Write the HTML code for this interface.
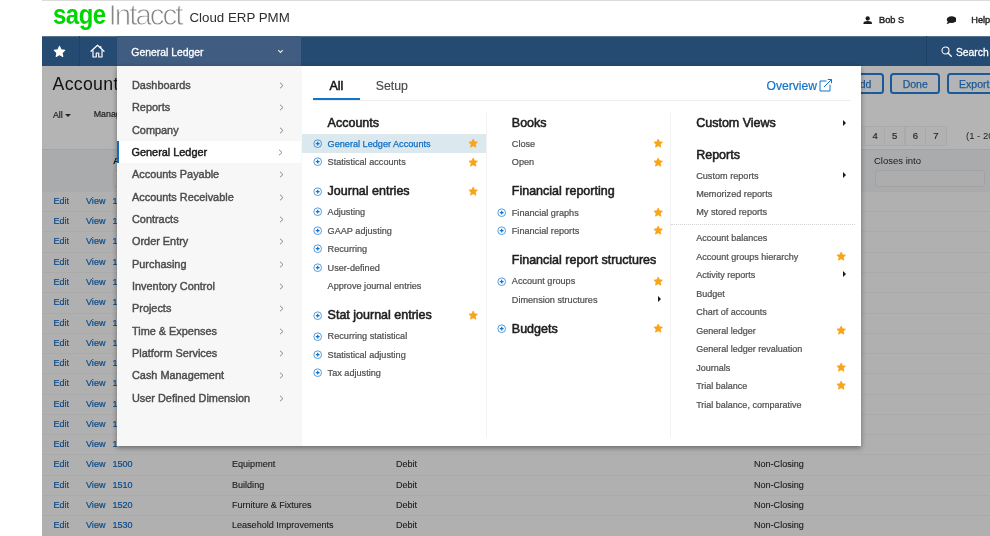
<!DOCTYPE html>
<html lang="en"><head><meta charset="utf-8"><title>Sage Intacct - General Ledger</title>
<style>
*{box-sizing:border-box}
html,body{margin:0;padding:0}
body{width:990px;height:536px;overflow:hidden;background:#fff;position:relative;font-family:"Liberation Sans",sans-serif;color:#222}
.abs{position:absolute;white-space:nowrap}
#topline{left:42px;top:0;width:948px;height:1px;background:#dcdcdc}
#sage{left:53px;top:-3.2px;font-size:27px;font-weight:bold;color:#00d600;letter-spacing:-0.5px;line-height:36px;transform:scaleX(.885);transform-origin:0 0}
#intacct{left:108.6px;top:-3.2px;font-size:29.5px;color:#858585;-webkit-text-stroke:.9px #fff;letter-spacing:-2px;line-height:36px}
#cloud{left:189.5px;top:9.4px;font-size:13.3px;color:#2e2e2e;line-height:18px}
#user{left:879px;top:14px;font-size:9.2px;-webkit-text-stroke:.45px #2a2a2a;color:#2a2a2a;line-height:12px}
#help{left:971.3px;top:14px;font-size:9.2px;-webkit-text-stroke:.45px #2a2a2a;color:#2a2a2a;line-height:12px}
#nav{left:42px;top:36px;width:948px;height:30px;background:#254b72;box-shadow:inset 0 1px 0 #58748f}
#nav .cell{position:absolute;top:0;height:30px}
#page{left:42px;top:66px;width:948px;height:470px;background:#b4b4b4;overflow:hidden}
#title{left:10.6px;top:5px;font-size:17.7px;color:#111;line-height:26px;letter-spacing:.3px}
.small{font-size:8.5px;color:#222}
#thead{left:0;top:83px;width:948px;height:42px;background:#aaabac;border-top:1px solid #a3a4a5}
.row{position:absolute;left:0;width:948px;height:20.3px;border-top:1px solid #aaa;background:#b0b0b0;font-size:9.05px;line-height:19.9px;color:#1c1c1c;-webkit-text-stroke:.12px #1c1c1c}
.row span{position:absolute;top:0;white-space:nowrap}
.row .lk{color:#0a4a8a;-webkit-text-stroke:.2px #0a4a8a}
.btn{position:absolute;top:7px;height:21px;border:2px solid #1b5a98;border-radius:3.5px;color:#1b5a98;font-size:10.5px;line-height:18.3px;text-align:center;-webkit-text-stroke:.25px #1b5a98}
.pg{position:absolute;top:60px;height:19.5px;width:21.6px;border:1px solid #aaa;background:#b2b2b2;font-size:9.5px;line-height:18px;text-align:center;color:#2a2a2a;-webkit-text-stroke:.2px #2a2a2a}
#shadow{left:116.7px;top:66px;width:744.3px;height:380px;box-shadow:0 2px 5px rgba(0,0,0,.4)}
#menu{left:116.7px;top:66px;width:185px;height:380px;background:#f7f7f7}
#menu .mi{position:absolute;left:0;width:184.8px;height:22.36px;font-size:10.9px;line-height:22px;color:#4c4c4c;padding-left:15.3px;-webkit-text-stroke:.42px #4c4c4c}
#menu .mi svg{position:absolute;left:162px;top:8px;width:5px;height:7px}
#menu .sel svg{left:159.5px}
#menu .sel{background:#fff;color:#1a1a1a;border-left:2.5px solid #0f6cc0;padding-left:12.8px;-webkit-text-stroke:.45px #1a1a1a}
#pop{left:301.5px;top:66px;width:559.5px;height:380px;background:#fff}
.h{position:absolute;font-size:12.5px;-webkit-text-stroke:.55px #1d1d1d;color:#1d1d1d;line-height:16px;white-space:nowrap}
.it{position:absolute;font-size:9.15px;color:#505050;-webkit-text-stroke:.22px #505050;line-height:12px;white-space:nowrap}
.pl{position:absolute;width:9.4px;height:9.4px}
.st{position:absolute;width:10.4px;height:10.4px}
.tri{position:absolute;width:0;height:0;border-left:3.4px solid #1a1a1a;border-top:3px solid transparent;border-bottom:3px solid transparent;margin-top:-.6px}
.vl{position:absolute;width:1px;background:#f2f2f2}
</style></head><body>

<div id="topline" class="abs"></div>
<div id="sage" class="abs">sage</div><div id="intacct" class="abs">Intacct</div><div id="cloud" class="abs">Cloud ERP PMM</div>
<svg class="abs" style="left:863.300px;top:15.500px;width:9.400px;height:8.800px" viewBox="0 0 20 18"><circle cx="10" cy="5" r="4.6" fill="#1c1c1c"/><path d="M1 18v-3.5c0-2.5 4-4 9-4s9 1.500 9 4V18z" fill="#1c1c1c"/></svg>
<div id="user" class="abs">Bob S</div>
<svg class="abs" style="left:945.600px;top:16px;width:10.800px;height:8.800px" viewBox="0 0 22 18"><ellipse cx="11.500" cy="7.500" rx="10" ry="7" fill="#1c1c1c"/><path d="M4 11l-3 6 8-3z" fill="#1c1c1c"/></svg>
<div id="help" class="abs">Help</div>
<div id="nav" class="abs">
<div class="cell" style="left:0;width:37.800px;border-right:1px solid #1f4266"></div>
<div class="cell" style="left:37px;width:37px"></div>
<div class="cell" style="left:74.700px;width:184.800px;background:#405c81"></div>
<svg class="abs" style="left:10.700px;top:9.300px;width:13px;height:13px" viewBox="0 0 24 24"><path fill="#fff" stroke="#fff" stroke-width="2" stroke-linejoin="round" d="M12 2.500l2.900 6.300 6.900.800-5.100 4.700 1.400 6.800L12 17.700l-6.100 3.400 1.400-6.800-5.100-4.700 6.900-.800z"/></svg>
<svg class="abs" style="left:47.500px;top:8px;width:15px;height:14px" viewBox="0 0 30 28"><path d="M2 14.500L15 2.500l13 12" fill="none" stroke="#fff" stroke-width="2.400" stroke-linejoin="round" stroke-linecap="round"/><path d="M6 12.500V26h6.500v-8h5v8H24V12.500" fill="none" stroke="#fff" stroke-width="2.400" stroke-linejoin="round"/><path d="M21.500 4v4" stroke="#fff" stroke-width="2.400"/></svg>
<div class="abs" style="left:89.300px;top:10px;font-size:10.4px;-webkit-text-stroke:.3px #fff;color:#fff;line-height:14px">General Ledger</div>
<svg class="abs" style="left:235px;top:13px;width:7px;height:4.500px" viewBox="0 0 14 10"><path d="M2 2.500l5 5 5-5" fill="none" stroke="#e6ebf2" stroke-width="2.600"/></svg>
<div class="cell" style="left:884.400px;width:1px;background:#1f4266"></div>
<svg class="abs" style="left:899px;top:10px;width:11px;height:11px" viewBox="0 0 22 22"><circle cx="9" cy="9" r="7" fill="none" stroke="#fff" stroke-width="2.200"/><path d="M14 14l6.500 6.500" stroke="#fff" stroke-width="2.600" stroke-linecap="round"/></svg>
<div class="abs" style="left:914px;top:10px;font-size:10.3px;-webkit-text-stroke:.3px #fff;color:#fff;line-height:14px">Search</div>
</div>
<div id="page" class="abs">
<div id="title" class="abs">Accounts</div>
<div class="abs small" style="left:11px;top:44px;line-height:11px;font-size:8.800px;-webkit-text-stroke:.2px #222">All<span style="display:inline-block;width:0;height:0;border-top:3.200px solid #222;border-left:3px solid transparent;border-right:3px solid transparent;margin-left:2.600px;vertical-align:1.500px"></span></div>
<div class="abs small" style="left:51.800px;top:43px;line-height:11px;font-size:8.800px;-webkit-text-stroke:.2px #222">Manage views</div>
<div class="btn" style="left:798px;width:44px">Add</div>
<div class="btn" style="left:848.400px;width:49.600px">Done</div>
<div class="btn" style="left:904.500px;width:55.500px">Export</div>
<div class="pg" style="left:801.7px">3</div>
<div class="pg" style="left:822.3px">4</div>
<div class="pg" style="left:841.9px">5</div>
<div class="pg" style="left:862.5px">6</div>
<div class="pg" style="left:883.1px">7</div>
<div class="abs" style="left:924px;top:64px;font-size:9.500px;color:#222;line-height:12px">(1 - 20 of 131)</div>
<div id="thead" class="abs">
<div class="abs" style="left:71px;top:5px;font-size:9.500px;font-weight:bold;color:#111;line-height:12px">Account number</div>
<div class="abs" style="left:832px;top:5px;font-size:9.500px;color:#1b1b1b;line-height:12px">Closes into</div>
<div class="abs" style="left:833px;top:20px;width:110px;height:17px;border:1px solid #a2a2a2;border-radius:3px;background:#adadad"></div>
<div class="abs" style="left:70.500px;top:20px;width:110px;height:17px;border:1px solid #a2a2a2;border-radius:3px;background:#adadad"></div>
</div>
<div class="row" style="top:124.90px"><span class="lk" style="left:11.500px">Edit</span><span class="lk" style="left:44px">View</span><span class="lk" style="left:70.500px">1000</span><span style="left:190px">Cash</span><span style="left:354px">Debit</span><span style="left:712px">Non-Closing</span></div>
<div class="row" style="top:145.18px"><span class="lk" style="left:11.500px">Edit</span><span class="lk" style="left:44px">View</span><span class="lk" style="left:70.500px">1010</span><span style="left:190px">Checking</span><span style="left:354px">Debit</span><span style="left:712px">Non-Closing</span></div>
<div class="row" style="top:165.45px"><span class="lk" style="left:11.500px">Edit</span><span class="lk" style="left:44px">View</span><span class="lk" style="left:70.500px">1020</span><span style="left:190px">Savings</span><span style="left:354px">Debit</span><span style="left:712px">Non-Closing</span></div>
<div class="row" style="top:185.72px"><span class="lk" style="left:11.500px">Edit</span><span class="lk" style="left:44px">View</span><span class="lk" style="left:70.500px">1050</span><span style="left:190px">Petty Cash</span><span style="left:354px">Debit</span><span style="left:712px">Non-Closing</span></div>
<div class="row" style="top:206.00px"><span class="lk" style="left:11.500px">Edit</span><span class="lk" style="left:44px">View</span><span class="lk" style="left:70.500px">1100</span><span style="left:190px">Accounts Receivable</span><span style="left:354px">Debit</span><span style="left:712px">Non-Closing</span></div>
<div class="row" style="top:226.28px"><span class="lk" style="left:11.500px">Edit</span><span class="lk" style="left:44px">View</span><span class="lk" style="left:70.500px">1110</span><span style="left:190px">Unbilled Receivables</span><span style="left:354px">Debit</span><span style="left:712px">Non-Closing</span></div>
<div class="row" style="top:246.55px"><span class="lk" style="left:11.500px">Edit</span><span class="lk" style="left:44px">View</span><span class="lk" style="left:70.500px">1200</span><span style="left:190px">Inventory</span><span style="left:354px">Debit</span><span style="left:712px">Non-Closing</span></div>
<div class="row" style="top:266.82px"><span class="lk" style="left:11.500px">Edit</span><span class="lk" style="left:44px">View</span><span class="lk" style="left:70.500px">1250</span><span style="left:190px">Prepaid Expenses</span><span style="left:354px">Debit</span><span style="left:712px">Non-Closing</span></div>
<div class="row" style="top:287.10px"><span class="lk" style="left:11.500px">Edit</span><span class="lk" style="left:44px">View</span><span class="lk" style="left:70.500px">1300</span><span style="left:190px">Other Current Assets</span><span style="left:354px">Debit</span><span style="left:712px">Non-Closing</span></div>
<div class="row" style="top:307.38px"><span class="lk" style="left:11.500px">Edit</span><span class="lk" style="left:44px">View</span><span class="lk" style="left:70.500px">1400</span><span style="left:190px">Deposits</span><span style="left:354px">Debit</span><span style="left:712px">Non-Closing</span></div>
<div class="row" style="top:327.65px"><span class="lk" style="left:11.500px">Edit</span><span class="lk" style="left:44px">View</span><span class="lk" style="left:70.500px">1410</span><span style="left:190px">Investments</span><span style="left:354px">Debit</span><span style="left:712px">Non-Closing</span></div>
<div class="row" style="top:347.92px"><span class="lk" style="left:11.500px">Edit</span><span class="lk" style="left:44px">View</span><span class="lk" style="left:70.500px">1450</span><span style="left:190px">Intercompany</span><span style="left:354px">Debit</span><span style="left:712px">Non-Closing</span></div>
<div class="row" style="top:368.20px"><span class="lk" style="left:11.500px">Edit</span><span class="lk" style="left:44px">View</span><span class="lk" style="left:70.500px;width:4px;overflow:hidden">1490</span><span style="left:190px"></span><span style="left:354px"></span><span style="left:712px"></span></div>
<div class="row" style="top:388.48px"><span class="lk" style="left:11.500px">Edit</span><span class="lk" style="left:44px">View</span><span class="lk" style="left:70.500px">1500</span><span style="left:190px">Equipment</span><span style="left:354px">Debit</span><span style="left:712px">Non-Closing</span></div>
<div class="row" style="top:408.75px"><span class="lk" style="left:11.500px">Edit</span><span class="lk" style="left:44px">View</span><span class="lk" style="left:70.500px">1510</span><span style="left:190px">Building</span><span style="left:354px">Debit</span><span style="left:712px">Non-Closing</span></div>
<div class="row" style="top:429.02px"><span class="lk" style="left:11.500px">Edit</span><span class="lk" style="left:44px">View</span><span class="lk" style="left:70.500px">1520</span><span style="left:190px">Furniture &amp; Fixtures</span><span style="left:354px">Debit</span><span style="left:712px">Non-Closing</span></div>
<div class="row" style="top:449.30px"><span class="lk" style="left:11.500px">Edit</span><span class="lk" style="left:44px">View</span><span class="lk" style="left:70.500px">1530</span><span style="left:190px">Leasehold Improvements</span><span style="left:354px">Debit</span><span style="left:712px">Non-Closing</span></div>
</div>
<div id="shadow" class="abs"></div>
<div id="menu" class="abs">
<div class="mi" style="top:7.80px">Dashboards<svg viewBox="0 0 10 14"><path d="M2 1.500l6 5.500-6 5.500" fill="none" stroke="#8a8a8a" stroke-width="2"/></svg></div>
<div class="mi" style="top:30.16px">Reports<svg viewBox="0 0 10 14"><path d="M2 1.500l6 5.500-6 5.500" fill="none" stroke="#8a8a8a" stroke-width="2"/></svg></div>
<div class="mi" style="top:52.52px">Company<svg viewBox="0 0 10 14"><path d="M2 1.500l6 5.500-6 5.500" fill="none" stroke="#8a8a8a" stroke-width="2"/></svg></div>
<div class="mi sel" style="top:74.88px">General Ledger<svg viewBox="0 0 10 14"><path d="M2 1.500l6 5.500-6 5.500" fill="none" stroke="#8a8a8a" stroke-width="2"/></svg></div>
<div class="mi" style="top:97.24px">Accounts Payable<svg viewBox="0 0 10 14"><path d="M2 1.500l6 5.500-6 5.500" fill="none" stroke="#8a8a8a" stroke-width="2"/></svg></div>
<div class="mi" style="top:119.60px">Accounts Receivable<svg viewBox="0 0 10 14"><path d="M2 1.500l6 5.500-6 5.500" fill="none" stroke="#8a8a8a" stroke-width="2"/></svg></div>
<div class="mi" style="top:141.96px">Contracts<svg viewBox="0 0 10 14"><path d="M2 1.500l6 5.500-6 5.500" fill="none" stroke="#8a8a8a" stroke-width="2"/></svg></div>
<div class="mi" style="top:164.32px">Order Entry<svg viewBox="0 0 10 14"><path d="M2 1.500l6 5.500-6 5.500" fill="none" stroke="#8a8a8a" stroke-width="2"/></svg></div>
<div class="mi" style="top:186.68px">Purchasing<svg viewBox="0 0 10 14"><path d="M2 1.500l6 5.500-6 5.500" fill="none" stroke="#8a8a8a" stroke-width="2"/></svg></div>
<div class="mi" style="top:209.04px">Inventory Control<svg viewBox="0 0 10 14"><path d="M2 1.500l6 5.500-6 5.500" fill="none" stroke="#8a8a8a" stroke-width="2"/></svg></div>
<div class="mi" style="top:231.40px">Projects<svg viewBox="0 0 10 14"><path d="M2 1.500l6 5.500-6 5.500" fill="none" stroke="#8a8a8a" stroke-width="2"/></svg></div>
<div class="mi" style="top:253.76px">Time &amp; Expenses<svg viewBox="0 0 10 14"><path d="M2 1.500l6 5.500-6 5.500" fill="none" stroke="#8a8a8a" stroke-width="2"/></svg></div>
<div class="mi" style="top:276.12px">Platform Services<svg viewBox="0 0 10 14"><path d="M2 1.500l6 5.500-6 5.500" fill="none" stroke="#8a8a8a" stroke-width="2"/></svg></div>
<div class="mi" style="top:298.48px">Cash Management<svg viewBox="0 0 10 14"><path d="M2 1.500l6 5.500-6 5.500" fill="none" stroke="#8a8a8a" stroke-width="2"/></svg></div>
<div class="mi" style="top:320.84px">User Defined Dimension<svg viewBox="0 0 10 14"><path d="M2 1.500l6 5.500-6 5.500" fill="none" stroke="#8a8a8a" stroke-width="2"/></svg></div>
</div>
<div id="pop" class="abs">
<div class="abs" style="left:28px;top:12px;font-size:12.500px;-webkit-text-stroke:.5px #111;color:#111;line-height:16px">All</div>
<div class="abs" style="left:74.200px;top:12px;font-size:12.300px;color:#4a4a4a;-webkit-text-stroke:.15px #4a4a4a;line-height:16px">Setup</div>
<div class="abs" style="left:11.500px;top:34px;width:537px;height:1px;background:#ececec"></div>
<div class="abs" style="left:11.500px;top:32px;width:46.500px;height:2.200px;background:#1274c8"></div>
<div class="abs" style="left:465px;top:12px;font-size:12.100px;color:#1274c8;-webkit-text-stroke:.2px #1274c8;line-height:16px">Overview</div>
<svg class="abs" style="left:516.500px;top:11.500px;width:15px;height:15px" viewBox="0 0 30 30"><path d="M17 6H4v20h20V13" fill="none" stroke="#1274c8" stroke-width="2"/><path d="M12 18L27 3M19.500 3H27v7.500" fill="none" stroke="#1274c8" stroke-width="2"/></svg>
<div class="vl" style="left:184px;top:46px;height:325px"></div>
<div class="vl" style="left:368.400px;top:46px;height:325px"></div>
<div class="abs" style="left:0;top:68px;width:184px;height:18.500px;background:#dbe8ee"></div>
<div class="h" style="left:26.100000000000023px;top:49.1px">Accounts</div>
<div class="it" style="left:26.100000000000023px;top:71.9px;color:#0f6fc5;-webkit-text-stroke:.25px #0f6fc5">General Ledger Accounts</div>
<svg class="pl" style="left:11.5px;top:73.1px" viewBox="0 0 10 10"><circle cx="5" cy="5" r="4.100" fill="none" stroke="#2a86d6" stroke-width=".85"/><path d="M5 3v4M3 5h4" stroke="#1274c8" stroke-width="1.300"/></svg>
<svg class="st" style="left:166.50px;top:72.3px" viewBox="0 0 24 24"><path fill="#f8a51b" stroke="#f8a51b" stroke-width="2" stroke-linejoin="round" d="M12 2.500l2.900 6.300 6.900.800-5.100 4.700 1.400 6.800L12 17.700l-6.100 3.400 1.400-6.800-5.100-4.700 6.900-.800z"/></svg>
<div class="it" style="left:26.100000000000023px;top:90.1px">Statistical accounts</div>
<svg class="pl" style="left:11.5px;top:91.3px" viewBox="0 0 10 10"><circle cx="5" cy="5" r="4.100" fill="none" stroke="#2a86d6" stroke-width=".85"/><path d="M5 3v4M3 5h4" stroke="#1274c8" stroke-width="1.300"/></svg>
<svg class="st" style="left:166.50px;top:90.5px" viewBox="0 0 24 24"><path fill="#f8a51b" stroke="#f8a51b" stroke-width="2" stroke-linejoin="round" d="M12 2.500l2.900 6.300 6.900.800-5.100 4.700 1.400 6.800L12 17.700l-6.100 3.400 1.400-6.800-5.100-4.700 6.900-.800z"/></svg>
<div class="h" style="left:26.100000000000023px;top:117.4px">Journal entries</div>
<svg class="pl" style="left:11.5px;top:120.8px" viewBox="0 0 10 10"><circle cx="5" cy="5" r="4.100" fill="none" stroke="#2a86d6" stroke-width=".85"/><path d="M5 3v4M3 5h4" stroke="#1274c8" stroke-width="1.300"/></svg>
<svg class="st" style="left:166.50px;top:120.0px" viewBox="0 0 24 24"><path fill="#f8a51b" stroke="#f8a51b" stroke-width="2" stroke-linejoin="round" d="M12 2.500l2.900 6.300 6.900.800-5.100 4.700 1.400 6.800L12 17.700l-6.100 3.400 1.400-6.800-5.100-4.700 6.900-.800z"/></svg>
<div class="it" style="left:26.100000000000023px;top:140.2px">Adjusting</div>
<svg class="pl" style="left:11.5px;top:141.4px" viewBox="0 0 10 10"><circle cx="5" cy="5" r="4.100" fill="none" stroke="#2a86d6" stroke-width=".85"/><path d="M5 3v4M3 5h4" stroke="#1274c8" stroke-width="1.300"/></svg>
<div class="it" style="left:26.100000000000023px;top:158.9px">GAAP adjusting</div>
<svg class="pl" style="left:11.5px;top:160.1px" viewBox="0 0 10 10"><circle cx="5" cy="5" r="4.100" fill="none" stroke="#2a86d6" stroke-width=".85"/><path d="M5 3v4M3 5h4" stroke="#1274c8" stroke-width="1.300"/></svg>
<div class="it" style="left:26.100000000000023px;top:177.1px">Recurring</div>
<svg class="pl" style="left:11.5px;top:178.3px" viewBox="0 0 10 10"><circle cx="5" cy="5" r="4.100" fill="none" stroke="#2a86d6" stroke-width=".85"/><path d="M5 3v4M3 5h4" stroke="#1274c8" stroke-width="1.300"/></svg>
<div class="it" style="left:26.100000000000023px;top:195.9px">User-defined</div>
<svg class="pl" style="left:11.5px;top:197.1px" viewBox="0 0 10 10"><circle cx="5" cy="5" r="4.100" fill="none" stroke="#2a86d6" stroke-width=".85"/><path d="M5 3v4M3 5h4" stroke="#1274c8" stroke-width="1.300"/></svg>
<div class="it" style="left:26.100000000000023px;top:214.3px">Approve journal entries</div>
<div class="h" style="left:26.100000000000023px;top:241.4px">Stat journal entries</div>
<svg class="pl" style="left:11.5px;top:244.8px" viewBox="0 0 10 10"><circle cx="5" cy="5" r="4.100" fill="none" stroke="#2a86d6" stroke-width=".85"/><path d="M5 3v4M3 5h4" stroke="#1274c8" stroke-width="1.300"/></svg>
<svg class="st" style="left:166.50px;top:244.0px" viewBox="0 0 24 24"><path fill="#f8a51b" stroke="#f8a51b" stroke-width="2" stroke-linejoin="round" d="M12 2.500l2.900 6.300 6.900.800-5.100 4.700 1.400 6.800L12 17.700l-6.100 3.400 1.400-6.800-5.100-4.700 6.900-.800z"/></svg>
<div class="it" style="left:26.100000000000023px;top:264.3px">Recurring statistical</div>
<svg class="pl" style="left:11.5px;top:265.5px" viewBox="0 0 10 10"><circle cx="5" cy="5" r="4.100" fill="none" stroke="#2a86d6" stroke-width=".85"/><path d="M5 3v4M3 5h4" stroke="#1274c8" stroke-width="1.300"/></svg>
<div class="it" style="left:26.100000000000023px;top:282.6px">Statistical adjusting</div>
<svg class="pl" style="left:11.5px;top:283.8px" viewBox="0 0 10 10"><circle cx="5" cy="5" r="4.100" fill="none" stroke="#2a86d6" stroke-width=".85"/><path d="M5 3v4M3 5h4" stroke="#1274c8" stroke-width="1.300"/></svg>
<div class="it" style="left:26.100000000000023px;top:300.9px">Tax adjusting</div>
<svg class="pl" style="left:11.5px;top:302.1px" viewBox="0 0 10 10"><circle cx="5" cy="5" r="4.100" fill="none" stroke="#2a86d6" stroke-width=".85"/><path d="M5 3v4M3 5h4" stroke="#1274c8" stroke-width="1.300"/></svg>
<div class="h" style="left:210.3px;top:49.1px">Books</div>
<div class="it" style="left:210.3px;top:71.9px">Close</div>
<svg class="st" style="left:351.00px;top:72.3px" viewBox="0 0 24 24"><path fill="#f8a51b" stroke="#f8a51b" stroke-width="2" stroke-linejoin="round" d="M12 2.500l2.900 6.300 6.900.800-5.100 4.700 1.400 6.800L12 17.700l-6.100 3.400 1.400-6.800-5.100-4.700 6.900-.800z"/></svg>
<div class="it" style="left:210.3px;top:90.1px">Open</div>
<svg class="st" style="left:351.00px;top:90.5px" viewBox="0 0 24 24"><path fill="#f8a51b" stroke="#f8a51b" stroke-width="2" stroke-linejoin="round" d="M12 2.500l2.900 6.300 6.900.800-5.100 4.700 1.400 6.800L12 17.700l-6.100 3.400 1.400-6.800-5.100-4.700 6.900-.800z"/></svg>
<div class="h" style="left:210.3px;top:117.4px">Financial reporting</div>
<div class="it" style="left:210.3px;top:140.6px">Financial graphs</div>
<svg class="pl" style="left:195.7px;top:141.8px" viewBox="0 0 10 10"><circle cx="5" cy="5" r="4.100" fill="none" stroke="#2a86d6" stroke-width=".85"/><path d="M5 3v4M3 5h4" stroke="#1274c8" stroke-width="1.300"/></svg>
<svg class="st" style="left:351.00px;top:141.0px" viewBox="0 0 24 24"><path fill="#f8a51b" stroke="#f8a51b" stroke-width="2" stroke-linejoin="round" d="M12 2.500l2.900 6.300 6.900.800-5.100 4.700 1.400 6.800L12 17.700l-6.100 3.400 1.400-6.800-5.100-4.700 6.900-.800z"/></svg>
<div class="it" style="left:210.3px;top:158.9px">Financial reports</div>
<svg class="pl" style="left:195.7px;top:160.1px" viewBox="0 0 10 10"><circle cx="5" cy="5" r="4.100" fill="none" stroke="#2a86d6" stroke-width=".85"/><path d="M5 3v4M3 5h4" stroke="#1274c8" stroke-width="1.300"/></svg>
<svg class="st" style="left:351.00px;top:159.3px" viewBox="0 0 24 24"><path fill="#f8a51b" stroke="#f8a51b" stroke-width="2" stroke-linejoin="round" d="M12 2.500l2.900 6.300 6.900.800-5.100 4.700 1.400 6.800L12 17.700l-6.100 3.400 1.400-6.800-5.100-4.700 6.900-.800z"/></svg>
<div class="h" style="left:210.3px;top:186.4px">Financial report structures</div>
<div class="it" style="left:210.3px;top:209.3px">Account groups</div>
<svg class="pl" style="left:195.7px;top:210.5px" viewBox="0 0 10 10"><circle cx="5" cy="5" r="4.100" fill="none" stroke="#2a86d6" stroke-width=".85"/><path d="M5 3v4M3 5h4" stroke="#1274c8" stroke-width="1.300"/></svg>
<svg class="st" style="left:351.00px;top:209.7px" viewBox="0 0 24 24"><path fill="#f8a51b" stroke="#f8a51b" stroke-width="2" stroke-linejoin="round" d="M12 2.500l2.900 6.300 6.900.800-5.100 4.700 1.400 6.800L12 17.700l-6.100 3.400 1.400-6.800-5.100-4.700 6.900-.800z"/></svg>
<div class="it" style="left:210.3px;top:227.6px">Dimension structures</div>
<span class="tri" style="left:356.79999999999995px;top:230.5px"></span>
<div class="h" style="left:210.3px;top:254.7px">Budgets</div>
<svg class="pl" style="left:195.7px;top:258.1px" viewBox="0 0 10 10"><circle cx="5" cy="5" r="4.100" fill="none" stroke="#2a86d6" stroke-width=".85"/><path d="M5 3v4M3 5h4" stroke="#1274c8" stroke-width="1.300"/></svg>
<svg class="st" style="left:351.00px;top:257.3px" viewBox="0 0 24 24"><path fill="#f8a51b" stroke="#f8a51b" stroke-width="2" stroke-linejoin="round" d="M12 2.500l2.900 6.300 6.900.800-5.100 4.700 1.400 6.800L12 17.700l-6.100 3.400 1.400-6.800-5.100-4.700 6.900-.800z"/></svg>
<div class="h" style="left:394.70000000000005px;top:49.1px">Custom Views</div>
<span class="tri" style="left:541.7px;top:54.2px"></span>
<div class="h" style="left:394.70000000000005px;top:80.7px">Reports</div>
<div class="it" style="left:394.70000000000005px;top:103.6px">Custom reports</div>
<span class="tri" style="left:541.7px;top:106.5px"></span>
<div class="it" style="left:394.70000000000005px;top:121.9px">Memorized reports</div>
<div class="it" style="left:394.70000000000005px;top:140.3px">My stored reports</div>
<div class="abs" style="left:369px;top:158.300px;width:184px;height:0;border-top:1px dotted #d2d2d2"></div>
<div class="it" style="left:394.70000000000005px;top:166.0px;font-size:9.0px">Account balances</div>
<div class="it" style="left:394.70000000000005px;top:184.5px;font-size:9.0px">Account groups hierarchy</div>
<svg class="st" style="left:534.70px;top:184.9px" viewBox="0 0 24 24"><path fill="#f8a51b" stroke="#f8a51b" stroke-width="2" stroke-linejoin="round" d="M12 2.500l2.900 6.300 6.900.800-5.100 4.700 1.400 6.800L12 17.700l-6.100 3.400 1.400-6.800-5.100-4.700 6.900-.800z"/></svg>
<div class="it" style="left:394.70000000000005px;top:203.0px;font-size:9.0px">Activity reports</div>
<span class="tri" style="left:541.7px;top:205.9px"></span>
<div class="it" style="left:394.70000000000005px;top:221.5px;font-size:9.0px">Budget</div>
<div class="it" style="left:394.70000000000005px;top:240.0px;font-size:9.0px">Chart of accounts</div>
<div class="it" style="left:394.70000000000005px;top:258.5px;font-size:9.0px">General ledger</div>
<svg class="st" style="left:534.70px;top:258.9px" viewBox="0 0 24 24"><path fill="#f8a51b" stroke="#f8a51b" stroke-width="2" stroke-linejoin="round" d="M12 2.500l2.900 6.300 6.900.800-5.100 4.700 1.400 6.800L12 17.700l-6.100 3.400 1.400-6.800-5.100-4.700 6.900-.800z"/></svg>
<div class="it" style="left:394.70000000000005px;top:277.0px;font-size:9.0px">General ledger revaluation</div>
<div class="it" style="left:394.70000000000005px;top:295.5px;font-size:9.0px">Journals</div>
<svg class="st" style="left:534.70px;top:295.9px" viewBox="0 0 24 24"><path fill="#f8a51b" stroke="#f8a51b" stroke-width="2" stroke-linejoin="round" d="M12 2.500l2.900 6.300 6.900.800-5.100 4.700 1.400 6.800L12 17.700l-6.100 3.400 1.400-6.800-5.100-4.700 6.900-.800z"/></svg>
<div class="it" style="left:394.70000000000005px;top:314.0px;font-size:9.0px">Trial balance</div>
<svg class="st" style="left:534.70px;top:314.4px" viewBox="0 0 24 24"><path fill="#f8a51b" stroke="#f8a51b" stroke-width="2" stroke-linejoin="round" d="M12 2.500l2.900 6.300 6.900.800-5.100 4.700 1.400 6.800L12 17.700l-6.100 3.400 1.400-6.800-5.100-4.700 6.900-.800z"/></svg>
<div class="it" style="left:394.70000000000005px;top:332.5px;font-size:9.0px">Trial balance, comparative</div>
</div>
</body></html>
